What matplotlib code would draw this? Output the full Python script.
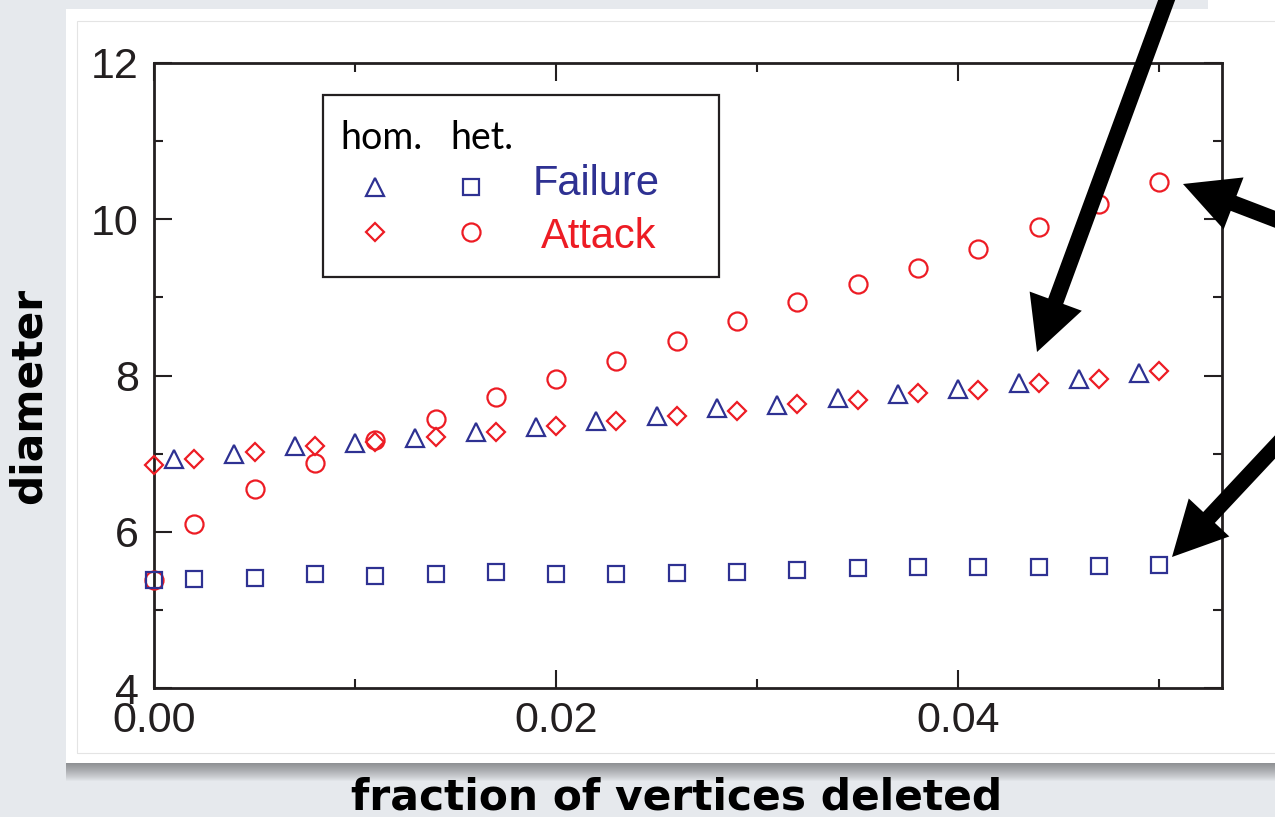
import matplotlib
matplotlib.use("Agg")
import matplotlib.pyplot as plt
from matplotlib.patches import Rectangle, FancyArrowPatch, ArrowStyle
from matplotlib.ticker import MultipleLocator, FormatStrFormatter

# heterogeneous network (squares = failure, circles = attack)
het_x = [0.000, 0.002, 0.005, 0.008, 0.011, 0.014, 0.017, 0.020, 0.023,
         0.026, 0.029, 0.032, 0.035, 0.038, 0.041, 0.044, 0.047, 0.050]
het_failure = [5.38, 5.40, 5.41, 5.46, 5.44, 5.46, 5.48, 5.46, 5.46,
               5.47, 5.48, 5.51, 5.53, 5.55, 5.55, 5.55, 5.56, 5.58]
het_attack = [5.38, 6.10, 6.55, 6.88, 7.18, 7.44, 7.72, 7.96, 8.18,
              8.44, 8.70, 8.94, 9.17, 9.38, 9.62, 9.90, 10.19, 10.48]

# homogeneous network (triangles = failure, diamonds = attack)
hom_attack_x = het_x
hom_attack = [6.85, 6.93, 7.02, 7.10, 7.15, 7.21, 7.28, 7.36, 7.42,
              7.48, 7.54, 7.63, 7.69, 7.78, 7.81, 7.91, 7.96, 8.06]
hom_failure_x = [0.001, 0.004, 0.007, 0.010, 0.013, 0.016, 0.019, 0.022, 0.025,
                 0.028, 0.031, 0.034, 0.037, 0.040, 0.043, 0.046, 0.049]
hom_failure = [6.93, 6.99, 7.10, 7.14, 7.20, 7.28, 7.34, 7.42, 7.48,
               7.58, 7.62, 7.71, 7.76, 7.83, 7.90, 7.95, 8.03]

W, H = 1275, 817
BLUE = "#2E3192"
RED = "#ED1C24"
INK = "#231F20"
SANS = "Liberation Sans"


def fx(px):
    return px / W


def fy(py):
    return 1 - py / H


fig = plt.figure(figsize=(W / 100, H / 100), dpi=100)
fig.patch.set_facecolor("#E6E9ED")


def card(x0, y0, x1, y1, shadow=18):
    # white sheet with a soft drop shadow underneath
    for k in range(1, shadow + 1):
        fig.add_artist(Rectangle((fx(x0), fy(y1 + k)), (x1 - x0) / W,
                                 (y1 + k - y0 - 8) / H, transform=fig.transFigure,
                                 fc="#303030", ec="none", alpha=0.03, zorder=-20))
    fig.add_artist(Rectangle((fx(x0), fy(y1)), (x1 - x0) / W, (y1 - y0) / H,
                             transform=fig.transFigure, fc="white", ec="none", zorder=-10))


card(66, 9, 1320, 763)
card(1208, -30, 1320, 12, shadow=14)
fig.add_artist(Rectangle((fx(77), fy(753)), (1320 - 77) / W, (753 - 21) / H,
                         transform=fig.transFigure, fill=False, ec="#E4E4E4", lw=0.8,
                         zorder=-9))

ax = fig.add_axes([fx(154), fy(688), (1221.7 - 154) / W, (688 - 63) / H])
ax.set_facecolor("white")

mk = dict(ls="none", mfc="none", mew=1.6, clip_on=False, zorder=3)
ax.plot(het_x, het_attack, marker="o", ms=13, mec=RED, **mk)
ax.plot(het_x, het_failure, marker="s", ms=11, mec=BLUE, **mk)
ax.plot(hom_failure_x, hom_failure, marker="^", ms=13, mec=BLUE, **mk)
ax.plot(hom_attack_x, hom_attack, marker="D", ms=9.5, mec=RED, **mk)

ax.set_xlim(0, 0.0531)
ax.set_ylim(4, 12)
ax.xaxis.set_major_locator(MultipleLocator(0.02))
ax.xaxis.set_minor_locator(MultipleLocator(0.01))
ax.yaxis.set_major_locator(MultipleLocator(2))
ax.yaxis.set_minor_locator(MultipleLocator(1))
ax.xaxis.set_major_formatter(FormatStrFormatter("%.2f"))
ax.yaxis.set_major_formatter(FormatStrFormatter("%d"))
ax.tick_params(which="both", direction="in", top=True, right=True,
               width=1.5, color=INK, labelsize=31, labelcolor=INK)
ax.tick_params(which="major", length=13)
ax.tick_params(which="minor", length=6.5)
ax.tick_params(axis="y", pad=11)
ax.tick_params(axis="x", pad=9)
for lab in ax.get_xticklabels() + ax.get_yticklabels():
    lab.set_fontfamily(SANS)
for sp in ax.spines.values():
    sp.set_linewidth(2)
    sp.set_color(INK)

# key box drawn by hand: two marker columns and a coloured row label
ax.add_patch(Rectangle((0.1583, 0.6576), 0.3709, 0.2912, transform=ax.transAxes,
                       fill=False, ec=INK, lw=1.6, zorder=4))
ax.text(0.1742, 0.8624, "hom.", transform=ax.transAxes, family="Lato",
        fontsize=27, color="black", va="baseline")
ax.text(0.2772, 0.8624, "het.", transform=ax.transAxes, family="Lato",
        fontsize=27, color="black", va="baseline")
key = dict(transform=ax.transAxes, **mk)
ax.plot([0.207], [0.8016], marker="^", ms=13, mec=BLUE, **key)
ax.plot([0.2969], [0.8016], marker="s", ms=11, mec=BLUE, **key)
ax.plot([0.207], [0.7296], marker="D", ms=9.5, mec=RED, **key)
ax.plot([0.2969], [0.7296], marker="o", ms=13, mec=RED, **key)
ax.text(0.355, 0.7888, "Failure", transform=ax.transAxes, family=SANS,
        fontsize=30, color=BLUE, va="baseline")
ax.text(0.3625, 0.704, "Attack", transform=ax.transAxes, family=SANS,
        fontsize=30, color=RED, va="baseline")

# pointer arrows
style = ArrowStyle.Simple(head_length=3.9, head_width=4.0, tail_width=1.15)
for (x0, y0), (x1, y1) in [((1174, -20), (1037, 352)),
                           ((1290, 225), (1183, 184)),
                           ((1290, 431), (1172, 557))]:
    fig.add_artist(FancyArrowPatch((fx(x0), fy(y0)), (fx(x1), fy(y1)),
                                   transform=fig.transFigure, arrowstyle=style,
                                   mutation_scale=10, shrinkA=0, shrinkB=0,
                                   fc="black", ec="black", lw=0, zorder=10))

fig.text(fx(677), fy(810), "fraction of vertices deleted", ha="center",
         va="baseline", family="DejaVu Sans", weight="bold", fontsize=30.5,
         color="black")
fig.text(fx(29), fy(396), "diameter", rotation=90, ha="center", va="center",
         family="DejaVu Sans", weight="bold", fontsize=30.5, color="black")

fig.savefig("out.png", dpi=100, facecolor=fig.get_facecolor())
